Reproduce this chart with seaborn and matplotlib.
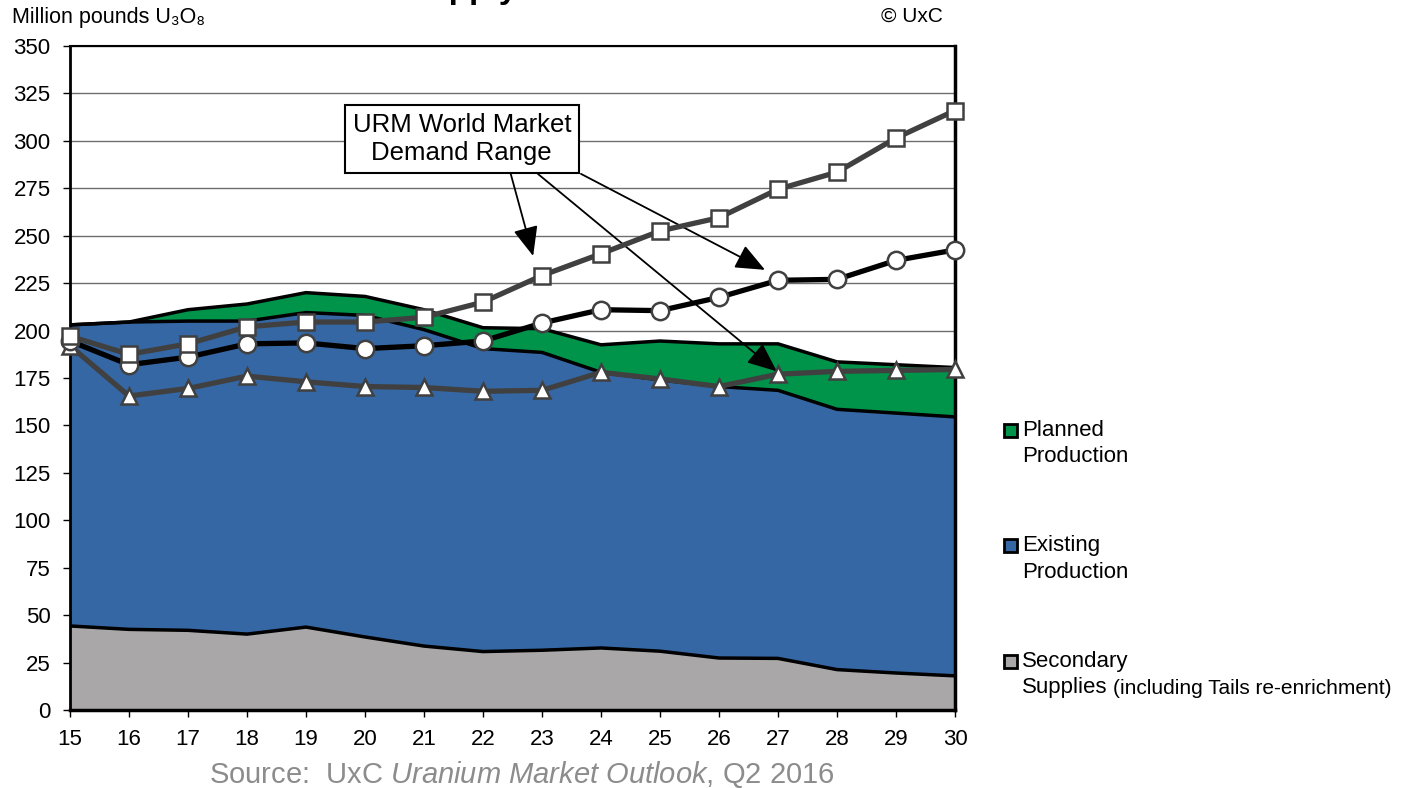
import matplotlib
matplotlib.use("Agg")
import matplotlib.pyplot as plt
import seaborn as sns
import numpy as np
import pandas as pd
from matplotlib.patches import Rectangle

# Jaren (20xx)
years = list(range(15, 31))

# Aanbod (stacked), million lbs U3O8
secondary = [44.3, 42.5, 42.0, 40.0, 43.7, 38.5, 33.7, 30.8, 31.5, 32.7, 31.0, 27.4, 27.2, 21.3, 19.5, 18.0]
existing = [158.7, 162.0, 163.0, 165.0, 165.8, 169.5, 166.8, 159.7, 157.0, 145.3, 143.0, 143.1, 141.3, 137.2, 137.0, 136.5]
planned = [0.0, 0.0, 6.0, 9.0, 10.5, 10.0, 10.5, 11.0, 12.5, 14.5, 20.5, 22.5, 24.5, 25.0, 25.5, 26.0]

# Vraag scenario's
demand_high = [197, 187.5, 193, 202, 204.5, 204.5, 207, 215, 229, 240.5, 252.5, 259.5, 274.5, 283.5, 301.5, 316]
demand_mid = [194.5, 182, 186, 193, 193.5, 190.5, 192, 194.5, 204, 211, 210.5, 217.5, 226.5, 227, 237, 242.5]
demand_low = [192, 165.5, 169.5, 176, 173, 170.5, 170, 168, 168.5, 178, 174.5, 170.5, 177, 178.5, 179, 179.5]

sns.set_theme(style="white")
plt.rcParams["font.family"] = ["Liberation Sans", "DejaVu Sans"]
plt.rcParams["text.color"] = "black"
plt.rcParams["mathtext.fontset"] = "custom"
plt.rcParams["mathtext.rm"] = "Liberation Sans"
plt.rcParams["mathtext.it"] = "Liberation Sans:italic"

df = pd.DataFrame({"year": years, "secondary": secondary, "existing": existing,
                   "planned": planned, "high": demand_high, "mid": demand_mid, "low": demand_low})
df["top_sec"] = df["secondary"]
df["top_exist"] = df["secondary"] + df["existing"]
df["top_total"] = df["top_exist"] + df["planned"]

fig = plt.figure(figsize=(14.06, 7.88), dpi=100)
ax = fig.add_axes([70 / 1406, 78 / 788, 885 / 1406, 664 / 788])

# Grid onder de vlakken
ax.set_axisbelow(True)
ax.yaxis.grid(True, color="#6e6e6e", linewidth=1.0)

c_sec, c_exist, c_plan = "#a9a7a8", "#3567a4", "#00934a"
ax.stackplot(df["year"], df["secondary"], df["existing"], df["planned"],
             colors=[c_sec, c_exist, c_plan], linewidth=0, zorder=2)

for col in ["top_sec", "top_exist", "top_total"]:
    sns.lineplot(data=df, x="year", y=col, color="black", linewidth=2.5, ax=ax, zorder=3)

# Vraaglijnen
line_gray = "#404040"
sns.lineplot(data=df, x="year", y="low", color=line_gray, linewidth=3.8, marker="^",
             markersize=11, markerfacecolor="white", markeredgecolor=line_gray,
             markeredgewidth=1.8, ax=ax, zorder=11, clip_on=False)
sns.lineplot(data=df, x="year", y="mid", color="black", linewidth=3.8, marker="o",
             markersize=12.5, markerfacecolor="white", markeredgecolor=line_gray,
             markeredgewidth=1.8, ax=ax, zorder=12, clip_on=False)
sns.lineplot(data=df, x="year", y="high", color=line_gray, linewidth=3.8, marker="s",
             markersize=11, markerfacecolor="white", markeredgecolor=line_gray,
             markeredgewidth=1.8, ax=ax, zorder=13, clip_on=False)

ax.set_xlim(15, 30)
ax.set_ylim(0, 350)
ax.set_xticks(years)
ax.set_xticklabels([str(y) for y in years])
ax.set_yticks(np.arange(0, 351, 25))
ax.set_xlabel("")
ax.set_ylabel("")
ax.tick_params(axis="both", which="major", labelsize=16, colors="black",
               length=5, width=1, direction="out", left=True, bottom=True)
ax.tick_params(axis="x", pad=9)
ax.tick_params(axis="y", pad=9)
for s in ax.spines.values():
    s.set_color("black")
    s.set_linewidth(2)
    s.set_zorder(10)
ax.spines["top"].set_linewidth(1.5)
ax.spines["right"].set_linewidth(2.5)
ax.spines["bottom"].set_linewidth(2.5)

# Annotatie box met pijlen
ax.text(21.64, 301, "URM World Market\nDemand Range", ha="center", va="center",
        fontsize=18.5, linespacing=1.2, zorder=8,
        bbox=dict(boxstyle="square,pad=0.3", facecolor="white", edgecolor="black", linewidth=1.5))
arrow = dict(arrowstyle="-|>,head_length=1.3,head_width=0.55", color="black",
             linewidth=1.3, mutation_scale=14, shrinkA=0, shrinkB=0)
ax.annotate("", xy=(22.85, 239.3), xytext=(22.47, 282.6), arrowprops=arrow, zorder=8)
ax.annotate("", xy=(26.78, 232.0), xytext=(23.66, 282.6), arrowprops=arrow, zorder=8)
ax.annotate("", xy=(26.98, 178.5), xytext=(22.93, 282.6), arrowprops=arrow, zorder=8)

# Kopteksten
fig.text(406 / 1406, 1 + 2 / 788, "Supply", fontsize=24, fontweight="bold",
         ha="left", va="baseline")
fig.text(12 / 1406, 1 - 18 / 788, "Million pounds U\u2083O\u2088", fontsize=15.5,
         ha="left", va="center")
fig.text(943 / 1406, 1 - 16 / 788, "\u00a9 UxC", fontsize=15, ha="right", va="center")
fig.text(522 / 1406, 1 - 774 / 788,
         r"Source:  UxC $\mathit{Uranium\ Market\ Outlook}$, Q2 2016",
         fontsize=21, color="#8c8c8c", ha="center", va="center")

# Legenda (handmatig)
legend_items = [("Planned", "Production", c_plan, 430),
                ("Existing", "Production", c_exist, 545),
                ("Secondary", "Supplies", c_sec, 661)]
for first, second, col, ypx in legend_items:
    fig.add_artist(Rectangle((1004 / 1406, 1 - (ypx + 7) / 788), 13 / 1406, 13 / 788,
                             facecolor=col, edgecolor="black", linewidth=2,
                             transform=fig.transFigure))
    fig.text(1022 / 1406, 1 - ypx / 788, first, fontsize=16, ha="left", va="center")
    fig.text(1022 / 1406, 1 - (ypx + 27) / 788, second, fontsize=16, ha="left", va="center")
fig.text(1113 / 1406, 1 - 688 / 788, "(including Tails re-enrichment)", fontsize=15,
         ha="left", va="center")

fig.savefig("out.png", dpi=100)
